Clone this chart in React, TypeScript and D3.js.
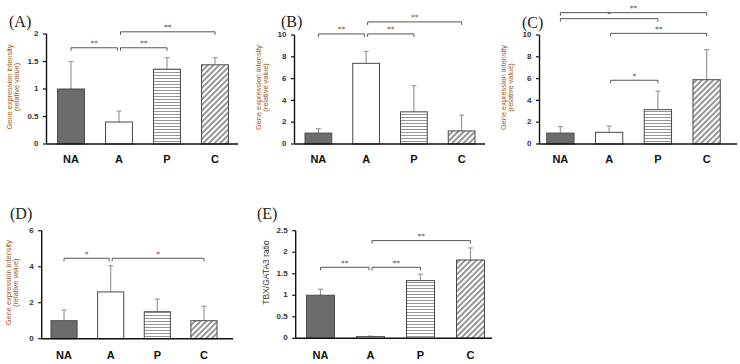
import React from "react";
import * as d3 from "d3";

const categories = ["NA", "A", "P", "C"];

const meansA = [1.0, 0.4, 1.36, 1.44];
const errsA = [0.5, 0.2, 0.21, 0.13];
const ticksA = [0, 0.5, 1, 1.5, 2];
const bracketsA = [
  { from: "NA", to: "A", level: 1.75, label: "**" },
  { from: "A", to: "P", level: 1.75, label: "**" },
  { from: "A", to: "C", level: 2.04, label: "**" },
];

const meansB = [1.0, 7.4, 2.95, 1.2];
const errsB = [0.4, 1.1, 2.4, 1.45];
const ticksB = [0, 2, 4, 6, 8, 10];
const bracketsB = [
  { from: "NA", to: "A", level: 10.1, label: "**" },
  { from: "A", to: "P", level: 10.1, label: "**" },
  { from: "A", to: "C", level: 11.2, label: "**" },
];

const meansC = [1.0, 1.07, 3.15, 5.9];
const errsC = [0.6, 0.58, 1.7, 2.75];
const ticksC = [0, 2, 4, 6, 8, 10];
const bracketsC = [
  { from: "NA", to: "C", level: 12.05, label: "**" },
  { from: "NA", to: "P", level: 11.5, label: "*" },
  { from: "A", to: "C", level: 10.15, label: "**" },
  { from: "A", to: "P", level: 5.85, label: "*" },
];

const meansD = [1.0, 2.6, 1.5, 1.0];
const errsD = [0.6, 1.45, 0.7, 0.8];
const ticksD = [0, 2, 4, 6];
const bracketsD = [
  { from: "NA", to: "A", level: 4.47, label: "*" },
  { from: "A", to: "C", level: 4.47, label: "*" },
];

const meansE = [1.0, 0.04, 1.34, 1.82];
const errsE = [0.14, 0.01, 0.15, 0.28];
const ticksE = [0, 0.5, 1, 1.5, 2, 2.5];
const bracketsE = [
  { from: "NA", to: "A", level: 1.65, label: "**" },
  { from: "A", to: "P", level: 1.65, label: "**" },
  { from: "A", to: "C", level: 2.27, label: "**" },
];

const geneLabel = ["Gene expression intensity", "(relative value)"];
const ratioLabel = ["TBX/GATA3 ratio"];

const fills = ["#6e6b6b", "#ffffff", "url(#hlines)", "url(#diag)"];

type Bracket = { from: string; to: string; level: number; label: string };

type PanelProps = {
  title: string;
  titleX: number;
  titleY: number;
  axisX: number;
  yTop: number;
  yBottom: number;
  xRange: [number, number];
  axisEnd: number;
  yMax: number;
  ticks: number[];
  means: number[];
  errs: number[];
  brackets: Bracket[];
  yLabel: string[];
  yLabelX: number[];
  yLabelSize: number;
  yLabelShift: number;
  labelY: number;
  starColors: string[];
};

function Panel(p: PanelProps) {
  const x = d3
    .scaleBand<string>()
    .domain(categories)
    .range(p.xRange)
    .paddingInner(0.44)
    .paddingOuter(0.22);
  const y = d3.scaleLinear().domain([0, p.yMax]).range([p.yBottom, p.yTop]);
  const bw = x.bandwidth();
  const cx = (c: string) => (x(c) as number) + bw / 2;
  const yMid = (p.yTop + p.yBottom) / 2 + p.yLabelShift;
  return (
    <g>
      <text
        x={p.titleX}
        y={p.titleY}
        fontFamily="Liberation Serif, DejaVu Serif, serif"
        fontSize={16}
        fill="#222"
      >
        {p.title}
      </text>
      {p.yLabel.map((t, i) => (
        <text
          key={i}
          transform={`translate(${p.yLabelX[i]},${yMid}) rotate(-90)`}
          textAnchor="middle"
          dominantBaseline="middle"
          fontFamily="Liberation Sans, Arial, sans-serif"
          fontSize={p.yLabelSize}
          fill={p.yLabel.length > 1 ? "#9a5a1e" : "#333"}
        >
          {t}
        </text>
      ))}
      {categories.map((c, i) => (
        <g key={c}>
          <line
            x1={cx(c)}
            x2={cx(c)}
            y1={y(p.means[i])}
            y2={y(p.means[i] + p.errs[i])}
            stroke="#9a9a9a"
            strokeWidth={1.2}
          />
          <line
            x1={cx(c) - 2.5}
            x2={cx(c) + 2.5}
            y1={y(p.means[i] + p.errs[i])}
            y2={y(p.means[i] + p.errs[i])}
            stroke="#9a9a9a"
            strokeWidth={1.2}
          />
          <rect
            x={x(c)}
            y={y(p.means[i])}
            width={bw}
            height={p.yBottom - y(p.means[i])}
            fill={fills[i]}
            stroke="#4a4a4a"
            strokeWidth={1}
          />
          <text
            x={cx(c)}
            y={p.labelY}
            textAnchor="middle"
            fontFamily="Liberation Sans, Arial, sans-serif"
            fontWeight="bold"
            fontSize={11}
            fill="#111"
          >
            {c}
          </text>
        </g>
      ))}
      <line x1={p.axisX} x2={p.axisX} y1={p.yBottom} y2={p.yTop} stroke="#111" strokeWidth={1.4} />
      <line x1={p.axisX} x2={p.axisEnd} y1={p.yBottom} y2={p.yBottom} stroke="#111" strokeWidth={1.4} />
      {p.ticks.map((t) => (
        <g key={t}>
          <line x1={p.axisX - 3.5} x2={p.axisX} y1={y(t)} y2={y(t)} stroke="#111" strokeWidth={1.2} />
          <text
            x={p.axisX - 8}
            y={y(t)}
            textAnchor="end"
            dominantBaseline="middle"
            fontFamily="Liberation Sans, Arial, sans-serif"
            fontWeight="bold"
            fontSize={8}
            fill="#333"
          >
            {t}
          </text>
        </g>
      ))}
      {p.brackets.map((b, i) => {
        const x1 = cx(b.from) + (b.from === "A" ? 1.5 : 0);
        const x2 = cx(b.to) - (b.to === "A" ? 1.5 : 0);
        const yy = y(b.level);
        return (
          <g key={i}>
            <path
              d={`M${x1},${yy + 3}V${yy}H${x2}V${yy + 3}`}
              fill="none"
              stroke="#555"
              strokeWidth={1}
            />
            <text
              x={(x1 + x2) / 2}
              y={yy - 1.5}
              textAnchor="middle"
              fontFamily="DejaVu Sans, sans-serif"
              fontSize={7.5}
              fill={p.starColors[i % p.starColors.length]}
            >
              {b.label}
            </text>
          </g>
        );
      })}
    </g>
  );
}

export default function App() {
  return (
    <svg
      width={740}
      height={364}
      style={{ position: "absolute", left: 0, top: 0, background: "#fff" }}
    >
      <defs>
        <pattern id="hlines" patternUnits="userSpaceOnUse" width={4} height={3}>
          <rect width={4} height={3} fill="#fff" />
          <line x1={0} x2={4} y1={0.5} y2={0.5} stroke="#8a8a8a" strokeWidth={0.9} />
        </pattern>
        <pattern
          id="diag"
          patternUnits="userSpaceOnUse"
          width={4}
          height={4}
          patternTransform="rotate(45)"
        >
          <rect width={4} height={4} fill="#fff" />
          <line x1={1} x2={1} y1={0} y2={4} stroke="#6a6a6a" strokeWidth={1.4} />
        </pattern>
      </defs>
      <rect width={740} height={364} fill="#fff" />
      <Panel
        title="(A)"
        titleX={9}
        titleY={27}
        axisX={46.5}
        yTop={34}
        yBottom={144}
        xRange={[47, 239]}
        axisEnd={238}
        yMax={2}
        ticks={ticksA}
        means={meansA}
        errs={errsA}
        brackets={bracketsA}
        yLabel={geneLabel}
        yLabelX={[10.5, 17.5]}
        yLabelSize={7.4}
        yLabelShift={-2}
        labelY={163}
        starColors={["#8a5a2e", "#5b4a8a", "#3e4a8a"]}
      />
      <Panel
        title="(B)"
        titleX={281}
        titleY={27}
        axisX={294.5}
        yTop={35}
        yBottom={144}
        xRange={[294.5, 485.5]}
        axisEnd={485}
        yMax={10}
        ticks={ticksB}
        means={meansB}
        errs={errsB}
        brackets={bracketsB}
        yLabel={geneLabel}
        yLabelX={[259, 266]}
        yLabelSize={7.4}
        yLabelShift={-2}
        labelY={163}
        starColors={["#8a5a2e", "#8a5a2e", "#8a5a2e"]}
      />
      <Panel
        title="(C)"
        titleX={522}
        titleY={28}
        axisX={539.5}
        yTop={35}
        yBottom={144}
        xRange={[536, 731]}
        axisEnd={737}
        yMax={10}
        ticks={ticksC}
        means={meansC}
        errs={errsC}
        brackets={bracketsC}
        yLabel={geneLabel}
        yLabelX={[504, 511]}
        yLabelSize={7.4}
        yLabelShift={-2}
        labelY={163}
        starColors={["#555", "#555", "#2e6a5a", "#555"]}
      />
      <Panel
        title="(D)"
        titleX={10}
        titleY={219}
        axisX={41.7}
        yTop={230.7}
        yBottom={338.7}
        xRange={[40.7, 227.3]}
        axisEnd={233}
        yMax={6}
        ticks={ticksD}
        means={meansD}
        errs={errsD}
        brackets={bracketsD}
        yLabel={geneLabel}
        yLabelX={[9, 16]}
        yLabelSize={7.4}
        yLabelShift={-2}
        labelY={359}
        starColors={["#4a5a9a", "#8a3a5a"]}
      />
      <Panel
        title="(E)"
        titleX={257}
        titleY={219}
        axisX={295.7}
        yTop={230.7}
        yBottom={338.3}
        xRange={[295.5, 495.5]}
        axisEnd={492}
        yMax={2.5}
        ticks={ticksE}
        means={meansE}
        errs={errsE}
        brackets={bracketsE}
        yLabel={ratioLabel}
        yLabelX={[267]}
        yLabelSize={8.5}
        yLabelShift={-12}
        labelY={359}
        starColors={["#555", "#555", "#555"]}
      />
    </svg>
  );
}
